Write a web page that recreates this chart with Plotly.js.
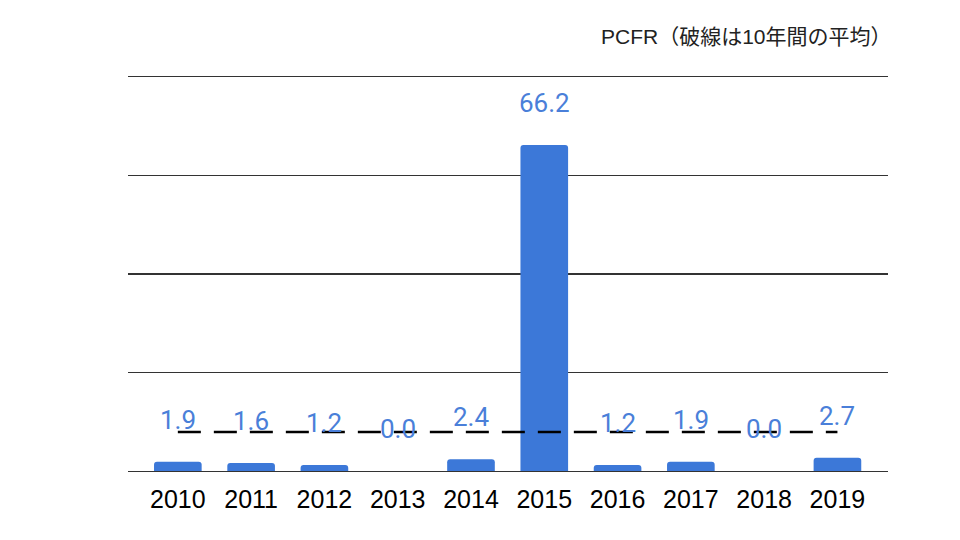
<!DOCTYPE html>
<html>
<head>
<meta charset="utf-8">
<script src="https://cdn.plot.ly/plotly-3.0.1.min.js"></script>
<style>html,body{margin:0;padding:0;background:#fff;}#chart{width:960px;height:540px;}</style>
</head>
<body>
<div id="chart"></div>
<script>
const years = ["2010","2011","2012","2013","2014","2015","2016","2017","2018","2019"];
const pcfr = [1.9, 1.6, 1.2, 0.0, 2.4, 66.2, 1.2, 1.9, 0.0, 2.7];
const labels = ["1.9","1.6","1.2","0.0","2.4","66.2","1.2","1.9","0.0","2.7"];
const titleText = "PCFR（破線は10年間の平均）";

const avg = pcfr.reduce((a, b) => a + b, 0) / pcfr.length;
const xs = years.map((_, i) => i);

const barTrace = {
  type: "bar",
  x: xs,
  y: pcfr,
  width: 0.65,
  marker: { color: "#3c78d8", cornerradius: 3 },
  hoverinfo: "skip"
};

const avgTrace = {
  type: "scatter",
  mode: "lines",
  x: [xs[0], xs[xs.length - 1]],
  y: [avg, avg],
  line: { color: "#000000", width: 2.5, dash: "23px,13px" },
  hoverinfo: "skip"
};

const annots = xs.map((x, i) => ({
  x: x, y: pcfr[i], xref: "x", yref: "y",
  text: labels[i], showarrow: false,
  yanchor: "middle", yshift: 42,
  font: { family: "Roboto, sans-serif", size: 26, color: "#4a7fd9" }
}));

annots.push({
  xref: "paper", yref: "paper", x: 1.008, y: 1, yshift: 41,
  xanchor: "right", yanchor: "middle", showarrow: false,
  text: titleText,
  font: { family: "Liberation Sans, Noto Sans CJK JP, sans-serif", size: 21, color: "#222222" }
});

const layout = {
  width: 960, height: 540,
  margin: { l: 128, r: 72, t: 77, b: 69 },
  paper_bgcolor: "#ffffff",
  plot_bgcolor: "#ffffff",
  showlegend: false,
  xaxis: {
    range: [-0.68, 9.69],
    tickvals: xs,
    ticktext: years,
    showgrid: false,
    zeroline: false,
    showline: true,
    mirror: true,
    linecolor: "#333333",
    linewidth: 1.3,
    ticks: "",
    ticklabelstandoff: 6,
    tickfont: { family: "Liberation Sans, Arial, sans-serif", size: 25, color: "#000000" }
  },
  yaxis: {
    range: [0, 80],
    tickvals: [0, 20, 40, 60, 80],
    showticklabels: false,
    showgrid: true,
    gridcolor: "#333333",
    gridwidth: 1.3,
    zeroline: false,
    showline: false,
    ticks: ""
  },
  annotations: annots
};

Plotly.newPlot("chart", [barTrace, avgTrace], layout, { staticPlot: true, displayModeBar: false });
</script>
</body>
</html>
